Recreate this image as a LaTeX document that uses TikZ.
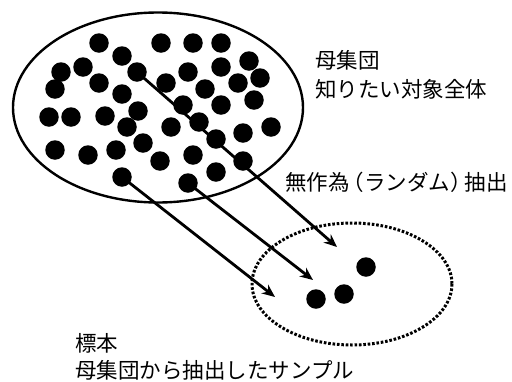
\documentclass[tikz,border=0pt]{standalone}
\usepackage{fontspec}
\newfontfamily\jp{Noto Sans CJK JP}
\usetikzlibrary{arrows.meta}
\begin{document}
\begin{tikzpicture}[x=1pt,y=-1pt,
  dot/.style={circle,fill=black,inner sep=0pt,minimum size=19.5pt},
  arr/.style={line width=2.8pt,-{Stealth[length=13pt,width=11pt]}},
  lbl/.style={anchor=base west,inner sep=0pt,font=\jp\fontsize{21.5}{24}\selectfont}]
\useasboundingbox (0,0) rectangle (512,381);
\draw[line width=2.4pt] (158,107.5) ellipse [x radius=145, y radius=95];
\draw[line width=3pt,dash pattern=on 2.6pt off 1.8pt] (352,284) ellipse [x radius=100, y radius=61];
% population dots
\foreach \n/\x/\y in {a1/99/43,a2/161/43,a3/193/43,a4/221/43,a5/122/56,a6/83/67,a7/61/72,
  a8/137/72,a9/188/72,a10/221/67,a11/249/61,a12/260/78,a13/238/83,a14/99/83,a15/55/89,
  a16/166/83,a17/205/89,a18/122/94,a19/183/105,a20/221/105,a21/254/100,a22/49/117,
  a23/71/117,a24/105/116,a25/138/111,a26/127/127,a27/171/127,a28/199/122,a29/243/133,
  a30/271/127,a31/216/139,a32/55/150,a33/88/155,a34/116/150,a35/143/143,a36/160/161,
  a37/193/155,a38/243/161,a39/216/172,a40/122/177,a41/188/183}
  \node[dot] (\n) at (\x,\y) {};
% sample dots
\node[dot] (s1) at (366,267) {};
\node[dot] (s2) at (344,294) {};
\node[dot] (s3) at (316,299) {};
% arrow tips
\coordinate (t1) at (337,247);
\coordinate (t2) at (313,280);
\coordinate (t3) at (275,297);
\draw[arr] (a8.center) -- (t1);
\draw[arr] (a41.center) -- (t2);
\draw[arr] (a40.center) -- (t3);
% labels
\node[lbl] (p1) at (315,68) {母集団};
\node[lbl] (p2) at (315,97) {知りたい対象全体};
\node[lbl] (r1) at (285,190) {無作為\kern-7pt（ランダム）\kern-7pt 抽出};
\node[lbl] (m1) at (75,351) {標本};
\node[lbl] (m2) at (75,378) {母集団から抽出したサンプル};
\end{tikzpicture}
\end{document}
